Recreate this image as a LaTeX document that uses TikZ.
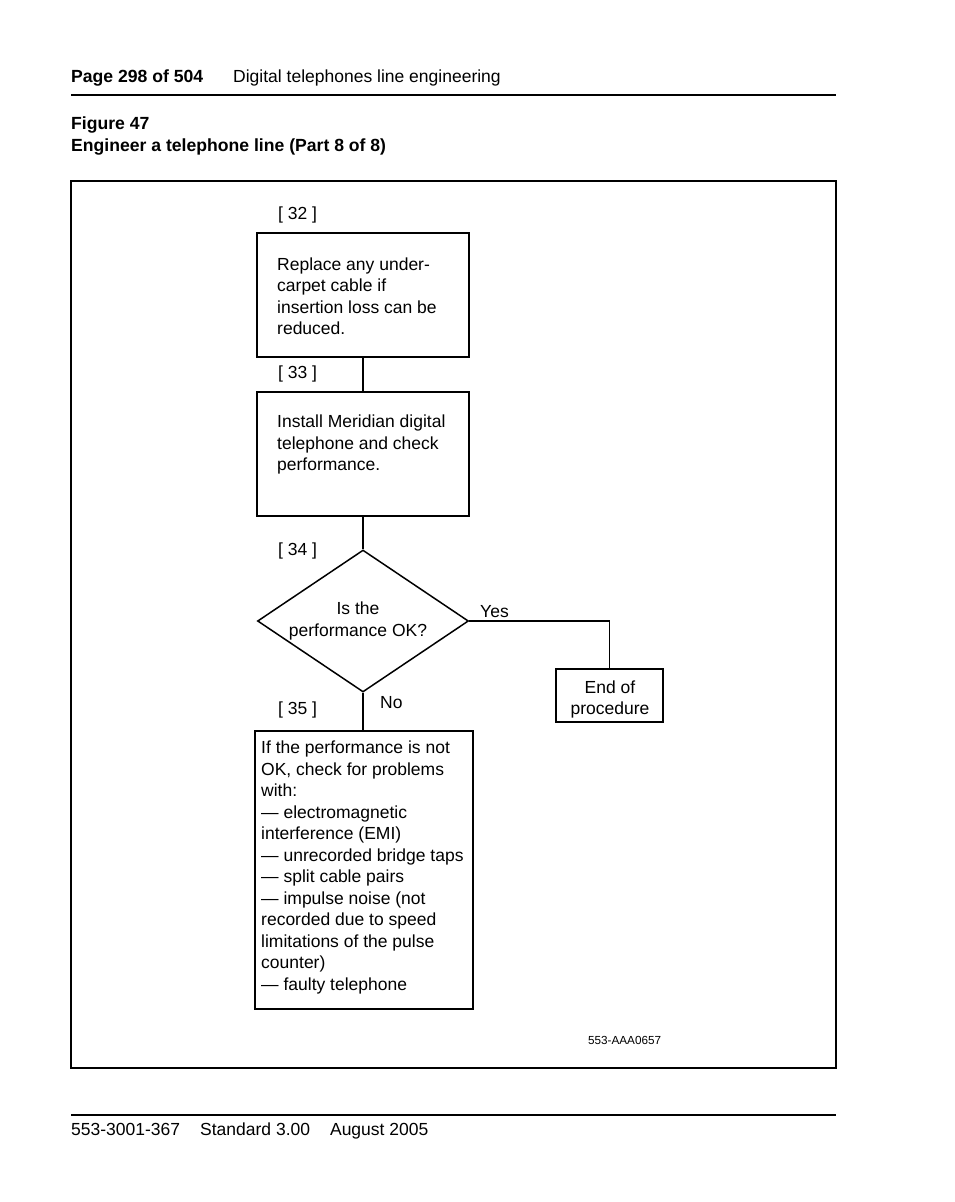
\documentclass[tikz,border=0pt]{standalone}
\usepackage{fontspec}
\setmainfont{Liberation Sans}
\usetikzlibrary{shapes.geometric}
\tikzset{
    stepbox/.style = {rectangle, draw=black, line width=1.5pt, minimum width=212pt, minimum height=124pt, inner sep=0pt},
    query/.style = {diamond, draw=black, line width=1.5pt, minimum width=211pt, minimum height=142pt, inner sep=0pt},
    body/.style = {anchor=north west, inner sep=0pt, align=left, font=\fontsize{17.5}{21.5}\selectfont},
    middle/.style = {inner sep=0pt, align=center, font=\fontsize{17.5}{21.5}\selectfont},
    tag/.style = {anchor=base west, inner sep=0pt, font=\fontsize{17.5}{21.5}\selectfont},
    head/.style = {anchor=base west, inner sep=0pt, font=\fontsize{17.6}{21.5}\selectfont\bfseries},
    wire/.style = {line width=1.5pt},
    rule/.style = {line width=2pt}
}
\begin{document}
\begin{tikzpicture}[x=1pt, y=-1pt]
  \useasboundingbox[fill=white] (0,0) rectangle (954,1202);

  % page header
  \node[head] (page) at (71,82) {Page 298 of 504};
  \node[tag] (chapter) at (233,82) {Digital telephones line engineering};
  \draw[rule] (71,95) -- (836,95);
  \node[head] (fig) at (71,129) {Figure 47};
  \node[head] (title) at (71,151) {Engineer a telephone line (Part 8 of 8)};

  % frame
  \draw[line width=1.5pt] (71,181) rectangle (836,1068);

  % steps
  \node[tag] (n32) at (278,219) {[ 32 ]};
  \node[stepbox] (b32) at (363,295) {};
  \node[body] (t32) at (277,257.5) {Replace any under-\\carpet cable if\\insertion loss can be\\reduced.};

  \node[tag] (n33) at (278,378) {[ 33 ]};
  \node[stepbox] (b33) at (363,454) {};
  \node[body] (t33) at (277,415) {Install Meridian digital\\telephone and check\\performance.};

  \node[tag] (n34) at (278,555) {[ 34 ]};
  \node[query] (q34) at (363,621) {};
  \node[middle] (t34) at (358,621) {Is the\\performance OK?};

  \node[stepbox, minimum width=107pt, minimum height=53pt] (fin) at (609.5,695.5) {};
  \node[middle] (tfin) at (610,699.5) {End of\\procedure};

  \node[tag] (n35) at (278,714) {[ 35 ]};
  \node[stepbox, minimum width=218pt, minimum height=278pt] (b35) at (364,870) {};
  \node[body] (t35) at (261,741) {If the performance is not\\OK, check for problems\\with:\\— electromagnetic\\interference (EMI)\\— unrecorded bridge taps\\— split cable pairs\\— impulse noise (not\\recorded due to speed\\limitations of the pulse\\counter)\\— faulty telephone};

  % connectors
  \draw[wire] (b32) -- (b33);
  \draw[wire] (b33.south) -- (q34.north);
  \draw[wire] (q34.east) -| (fin.north);
  \draw[wire] (q34.south) -- (q34.south |- b35.north);
  \node[tag] (yes) at (480,617) {Yes};
  \node[tag] (no) at (380,708) {No};

  \node[tag, font=\fontsize{11.7}{14}\selectfont] (code) at (588,1044) {553-AAA0657};

  % page footer
  \draw[rule] (71,1115) -- (836,1115);
  \node[tag] (doc) at (71,1135) {553-3001-367\hspace{20pt}Standard 3.00\hspace{20pt}August 2005};
\end{tikzpicture}
\end{document}
